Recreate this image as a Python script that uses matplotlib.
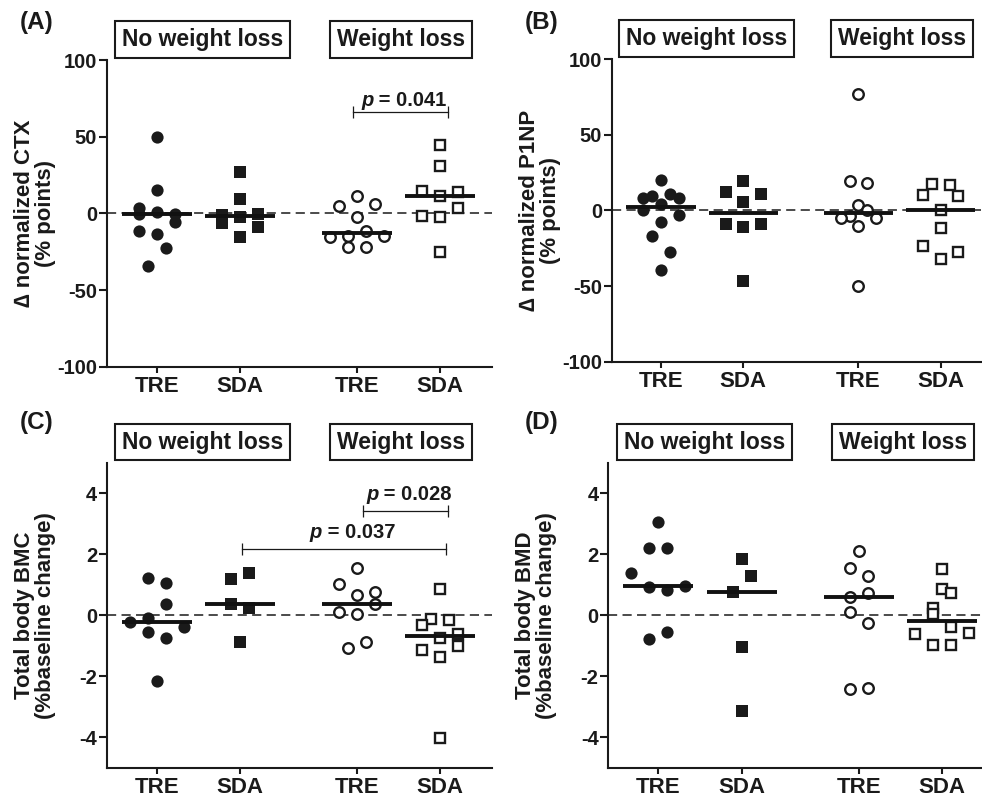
import numpy as np
import matplotlib.pyplot as plt
from matplotlib.transforms import blended_transform_factory

plt.rcParams['font.family'] = ['Liberation Sans', 'DejaVu Sans']
plt.rcParams['font.weight'] = 'bold'

# groups on the x axis
groups = ['TRE', 'SDA', 'TRE', 'SDA']
group_x = [0, 1, 2.4, 3.4]
box_labels = ['No weight loss', 'Weight loss']
box_x = [0.55, 2.93]

# (A) change in normalized CTX, % points
ctx_tre_nwl = [49.6, 15.2, 3.5, 1.1, -0.4, -0.4, -5.9, -11.3, -13.5, -22.8, -34.1]
ctx_sda_nwl = [26.8, 9.3, -0.5, -0.9, -2.6, -6.5, -8.7, -15.3]
ctx_tre_wl = [11.5, 6.1, 4.6, -2.4, -11.3, -14.6, -15.0, -15.7, -21.7, -21.7]
ctx_sda_wl = [44.6, 31.1, 14.8, 14.1, 11.5, 3.7, -2.0, -2.6, -25.0]

# (B) change in normalized P1NP, % points
p1np_tre_nwl = [19.9, 11.0, 9.3, 8.2, 8.2, 4.4, 0.0, -2.9, -7.7, -17.2, -27.2, -39.3]
p1np_sda_nwl = [19.2, 11.9, 11.0, 5.3, -9.0, -9.0, -11.3, -46.4]
p1np_tre_wl = [77.3, 19.6, 18.1, 3.8, 0.4, -4.0, -5.1, -5.1, -10.6, -49.7]
p1np_sda_wl = [17.7, 16.6, 10.4, 9.7, 0.4, -11.7, -23.4, -27.2, -32.2]

# (C) total body BMC, % baseline change
bmc_tre_nwl = [1.21, 1.07, 0.38, -0.10, -0.21, -0.40, -0.54, -0.76, -2.16]
bmc_sda_nwl = [1.37, 1.20, 0.38, 0.25, -0.87]
bmc_tre_wl = [1.55, 1.01, 0.76, 0.66, 0.38, 0.11, 0.03, -0.87, -1.08]
bmc_sda_wl = [0.85, -0.11, -0.15, -0.33, -0.62, -0.76, -1.00, -1.14, -1.38, -4.04]

# (D) total body BMD, % baseline change
bmd_tre_nwl = [3.05, 2.21, 2.21, 1.39, 0.96, 0.92, 0.83, -0.54, -0.78]
bmd_sda_nwl = [1.83, 1.28, 0.76, -1.05, -3.14]
bmd_tre_wl = [2.10, 1.55, 1.30, 0.72, 0.60, 0.12, -0.27, -2.39, -2.43]
bmd_sda_wl = [1.52, 0.85, 0.74, 0.25, 0.03, -0.40, -0.60, -0.62, -0.98, -0.98]

# scatter lanes (side-by-side spreading as in the figure)
ctx_lanes = [[0, 0, -2, 0, -2, 2, 2, -2, 0, 1, -1],
             [0, 0, 2, -2, 0, -2, 2, 0],
             [0, 2, -2, 0, 1, -1, 3, -3, -1, 1],
             [0, 0, -2, 2, 0, 2, -2, 0, 0]]
p1np_lanes = [[0, 1, -1, -2, 2, 0, -2, 2, 0, -1, 1, 0],
              [0, -2, 2, 0, -2, 2, 0, 0],
              [0, -1, 1, 0, 1, -1, -2, 2, 0, 0],
              [-1, 1, -2, 2, 0, 0, -2, 2, 0]]
bmc_lanes = [[-1, 1, 1, -1, -3, 3, -1, 1, 0],
             [1, -1, -1, 1, 0],
             [0, -2, 2, 0, 2, -2, 0, 1, -1],
             [0, -1, 1, -2, 2, 0, 2, -2, 0, 0]]
bmd_lanes = [[0, -1, 1, -3, 3, -1, 1, 1, -1],
             [0, 1, -1, 0, 0],
             [0, -1, 1, 1, -1, -1, 1, 1, -1],
             [0, 0, 1, -1, -1, 1, 3, -3, -1, 1]]

lane_step = 0.108
styles = [dict(marker='o', ms=8.8, mfc='#1a1a1a', mec='#1a1a1a', mew=0),
          dict(marker='s', ms=8.8, mfc='#1a1a1a', mec='#1a1a1a', mew=0),
          dict(marker='o', ms=7.6, mfc='white', mec='#1a1a1a', mew=1.7),
          dict(marker='s', ms=7.4, mfc='white', mec='#1a1a1a', mew=1.7)]

fig = plt.figure(figsize=(9.82, 8), dpi=100)


def draw_panel(rect, xlim, data, lanes, ylim, yticks, ylabel, letter, letter_xy):
    ax = fig.add_axes(rect)
    ax.axhline(0, color='#1a1a1a', lw=1.1, ls=(0, (6, 3.5)), zorder=1)
    for i, vals in enumerate(data):
        vals = np.array(vals)
        xs = group_x[i] + lane_step * np.array(lanes[i])
        ax.plot(xs, vals, ls='none', zorder=3, **styles[i])
        med = np.median(vals)
        ax.plot([group_x[i] - 0.42, group_x[i] + 0.42], [med, med],
                color='#111111', lw=2.8, solid_capstyle='butt', zorder=4)
    ax.set_xlim(xlim)
    ax.set_ylim(ylim)
    ax.set_yticks(yticks)
    ax.set_yticklabels([f'{t:g}' for t in yticks], fontsize=14.5)
    ax.set_xticks(group_x)
    ax.set_xticklabels(groups, fontsize=16)
    for s in ['top', 'right']:
        ax.spines[s].set_visible(False)
    for s in ['left', 'bottom']:
        ax.spines[s].set_linewidth(1.5)
        ax.spines[s].set_color('#1a1a1a')
    ax.tick_params(axis='y', length=6, width=1.5, pad=1, colors='#1a1a1a')
    ax.tick_params(axis='x', length=4, width=1.5, pad=3, colors='#1a1a1a')
    ax.text(-72 / (rect[2] * 982), 0.5, ylabel, transform=ax.transAxes,
            rotation=90, ha='center', va='center', fontsize=16,
            linespacing=1.0, color='#1a1a1a')
    trans = blended_transform_factory(ax.transData, ax.transAxes)
    for bx, bl in zip(box_x, box_labels):
        ax.text(bx, 1.068, bl, transform=trans, ha='center', va='center',
                fontsize=16.5, color='#1a1a1a', clip_on=False,
                bbox=dict(boxstyle='square,pad=0.3', fc='white', ec='#1a1a1a', lw=1.5))
    fig.text(letter_xy[0], letter_xy[1], letter, ha='left', va='top',
             fontsize=17.5, color='#1a1a1a')
    return ax


def bracket(ax, x0, x1, y, tx, ty, pval):
    ax.plot([x0, x1], [y, y], color='#1a1a1a', lw=0.9, zorder=2)
    ax.plot([x0, x1], [y, y], ls='none', marker='|', ms=8, mew=0.9,
            color='#1a1a1a', zorder=2)
    ax.text(tx, ty, 'p', style='italic', ha='right', va='baseline',
            fontsize=14.5, color='#1a1a1a')
    ax.text(tx, ty, ' = ' + pval, ha='left', va='baseline',
            fontsize=14.5, color='#1a1a1a')


ax_a = draw_panel([0.1087, 0.5416, 0.392, 0.3834], (-0.6, 4.02),
                  [ctx_tre_nwl, ctx_sda_nwl, ctx_tre_wl, ctx_sda_wl], ctx_lanes,
                  (-100, 100), [-100, -50, 0, 50, 100],
                  '\u2206 normalized CTX\n(% points)', '(A)', (0.0204, 0.986))
bracket(ax_a, 2.35, 3.5, 66, 2.6, 70, '0.041')

ax_b = draw_panel([0.6229, 0.548, 0.376, 0.378], (-0.6, 3.89),
                  [p1np_tre_nwl, p1np_sda_nwl, p1np_tre_wl, p1np_sda_wl], p1np_lanes,
                  (-100, 100), [-100, -50, 0, 50, 100],
                  '\u2206 normalized P1NP\n(% points)', '(B)', (0.5346, 0.986))

ax_c = draw_panel([0.1087, 0.0405, 0.392, 0.381], (-0.6, 4.02),
                  [bmc_tre_nwl, bmc_sda_nwl, bmc_tre_wl, bmc_sda_wl], bmc_lanes,
                  (-5, 5), [-4, -2, 0, 2, 4],
                  'Total body BMC\n(%baseline change)', '(C)', (0.0204, 0.486))
bracket(ax_c, 2.47, 3.5, 3.43, 2.66, 3.78, '0.028')
bracket(ax_c, 1.02, 3.47, 2.18, 1.98, 2.53, '0.037')

ax_d = draw_panel([0.6194, 0.0405, 0.38, 0.381], (-0.6, 3.87),
                  [bmd_tre_nwl, bmd_sda_nwl, bmd_tre_wl, bmd_sda_wl], bmd_lanes,
                  (-5, 5), [-4, -2, 0, 2, 4],
                  'Total body BMD\n(%baseline change)', '(D)', (0.5346, 0.486))

fig.savefig('out.png', dpi=100)
